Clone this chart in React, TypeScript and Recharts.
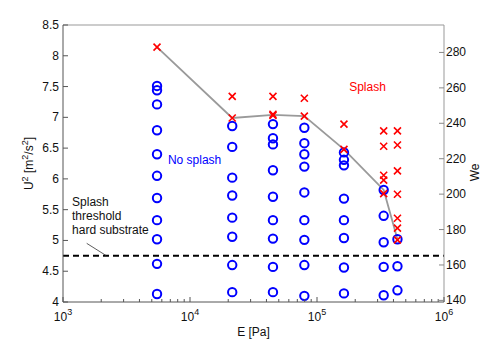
import {
  ComposedChart,
  Line,
  Scatter,
  XAxis,
  YAxis,
  ReferenceLine,
  ReferenceDot,
} from "recharts";

// E [Pa] of each measured column
const E_COLUMNS = [5500, 21500, 45000, 79500, 163000, 335000, 430000];

// U^2 values, one list per column
const NO_SPLASH_U = [
  [7.51, 7.44, 7.21, 6.79, 6.4, 6.05, 5.69, 5.33, 5.02, 4.62, 4.13],
  [6.86, 6.52, 6.02, 5.73, 5.37, 5.06, 4.6, 4.16],
  [6.89, 6.66, 6.56, 6.14, 5.71, 5.33, 5.03, 4.57, 4.16],
  [6.83, 6.58, 6.4, 6.2, 5.78, 5.33, 5.01, 4.6, 4.1],
  [6.43, 6.31, 6.22, 5.68, 5.33, 5.04, 4.56, 4.14],
  [5.82, 5.4, 4.97, 4.57, 4.11],
  [5.02, 4.58, 4.19],
];

const SPLASH_U = [
  [8.14],
  [7.34, 6.99],
  [7.34, 7.05, 7.03],
  [7.31, 7.02],
  [6.89, 6.48],
  [6.78, 6.53, 6.06, 5.98, 5.76],
  [6.78, 6.55, 6.13, 5.75, 5.36, 5.2, 5.01],
];

const THRESHOLD_U = [8.14, 6.99, 7.04, 7.02, 6.48, 5.82, 5.02];
const HARD_SUBSTRATE_U = 4.75;

const X_MAJOR = [1e3, 1e4, 1e5, 1e6];
const X_MINOR_MULT = [2, 3, 4, 5, 6, 7, 8, 9];
const U_TICKS = [4, 4.5, 5, 5.5, 6, 6.5, 7, 7.5, 8, 8.5];
const WE_TICKS = [140, 160, 180, 200, 220, 240, 260, 280];
const WE_DOMAIN = [139.1, 295.5];

const X_TICKS = [
  ...X_MAJOR.slice(0, 3).flatMap((d) => [d, ...X_MINOR_MULT.map((m) => m * d)]),
  X_MAJOR[3],
];

const noSplash = E_COLUMNS.flatMap((E, i) => NO_SPLASH_U[i].map((U) => ({ E, U })));
const splash = E_COLUMNS.flatMap((E, i) => SPLASH_U[i].map((U) => ({ E, U })));
const threshold = E_COLUMNS.map((E, i) => ({ E, U: THRESHOLD_U[i] }));

const FONT = "'Liberation Sans', Arial, sans-serif";
const AXIS = "#555";

// eslint-disable-next-line @typescript-eslint/no-explicit-any
function XTick({ x, y, payload }: any) {
  const exp = Math.log10(payload.value);
  const major = Math.abs(exp - Math.round(exp)) < 1e-6;
  return (
    <g>
      <line x1={x} x2={x} y1={y} y2={y - (major ? 5 : 3)} stroke={AXIS} />
      {major && (
        <text x={x} y={y + 19} textAnchor="middle" fontSize={12} fontFamily={FONT} fill="#111">
          10
          <tspan dy={-6} fontSize={9}>
            {Math.round(exp)}
          </tspan>
        </text>
      )}
    </g>
  );
}

// eslint-disable-next-line @typescript-eslint/no-explicit-any
function LeftTick({ x, y, payload }: any) {
  return (
    <g>
      <line x1={x} x2={x + 5} y1={y} y2={y} stroke={AXIS} />
      <text x={x - 4} y={y + 4} textAnchor="end" fontSize={12} fontFamily={FONT} fill="#111">
        {String(payload.value)}
      </text>
    </g>
  );
}

// eslint-disable-next-line @typescript-eslint/no-explicit-any
function RightTick({ x, y, payload }: any) {
  return (
    <g>
      <line x1={x} x2={x - 5} y1={y} y2={y} stroke="#888" />
      <text x={x + 2} y={y + 4} textAnchor="start" fontSize={12} fontFamily={FONT} fill="#111">
        {String(payload.value)}
      </text>
    </g>
  );
}

// eslint-disable-next-line @typescript-eslint/no-explicit-any
const OpenCircle = ({ cx, cy }: any) => (
  <circle cx={cx} cy={cy} r={4.2} fill="none" stroke="#0000ff" strokeWidth={2} />
);

// eslint-disable-next-line @typescript-eslint/no-explicit-any
const Cross = ({ cx, cy }: any) => {
  const s = 3.5;
  return (
    <path
      d={`M${cx - s},${cy - s}L${cx + s},${cy + s}M${cx - s},${cy + s}L${cx + s},${cy - s}`}
      stroke="#ff0000"
      strokeWidth={1.6}
      fill="none"
    />
  );
};

function textShape(lines: string[], color: string, anchor: "start" | "middle") {
  // eslint-disable-next-line @typescript-eslint/no-explicit-any
  return ({ cx, cy }: any) => (
    <text x={cx} y={cy + 4} textAnchor={anchor} fontSize={12} fontFamily={FONT} fill={color}>
      {lines.map((l, i) => (
        <tspan key={l} x={cx} dy={i === 0 ? 0 : 14.2}>
          {l}
        </tspan>
      ))}
    </text>
  );
}

// eslint-disable-next-line @typescript-eslint/no-explicit-any
const LeftLabel = ({ viewBox }: any) => {
  const cx = 33;
  const cy = viewBox.y + viewBox.height / 2;
  return (
    <text
      x={cx}
      y={cy}
      transform={`rotate(-90 ${cx} ${cy})`}
      textAnchor="middle"
      fontSize={12}
      fontFamily={FONT}
      fill="#111"
    >
      U<tspan dy={-5} fontSize={9}>2</tspan>
      <tspan dy={5}> [m</tspan>
      <tspan dy={-5} fontSize={9}>2</tspan>
      <tspan dy={5}>/s</tspan>
      <tspan dy={-5} fontSize={9}>2</tspan>
      <tspan dy={5}>]</tspan>
    </text>
  );
};

export default function App() {
  return (
    <div style={{ position: "absolute", left: 0, top: 0, background: "#fff" }}>
      <ComposedChart
        width={491}
        height={340}
        margin={{ top: 25, right: 0, left: 0, bottom: 0 }}
      >
        <XAxis
          dataKey="E"
          type="number"
          scale="log"
          domain={[1e3, 1e6]}
          allowDataOverflow
          ticks={X_TICKS}
          interval={0}
          tick={<XTick />}
          tickLine={false}
          tickSize={0}
          tickMargin={0}
          stroke={AXIS}
          height={38}
          label={{
            value: "E [Pa]",
            position: "insideBottom",
            offset: 4,
            fontSize: 12,
            fontFamily: FONT,
            fill: "#111",
          }}
        />
        <YAxis
          yAxisId="left"
          dataKey="U"
          type="number"
          domain={[4, 8.5]}
          allowDataOverflow
          ticks={U_TICKS}
          interval={0}
          tick={<LeftTick />}
          tickLine={false}
          tickSize={0}
          tickMargin={0}
          stroke={AXIS}
          width={63}
          label={<LeftLabel />}
        />
        <YAxis
          yAxisId="right"
          orientation="right"
          type="number"
          domain={WE_DOMAIN}
          allowDataOverflow
          ticks={WE_TICKS}
          interval={0}
          tick={<RightTick />}
          tickLine={false}
          tickSize={0}
          tickMargin={0}
          stroke="#999"
          width={47}
          label={{
            value: "We",
            angle: -90,
            position: "insideRight",
            offset: 16,
            fontSize: 12,
            fontFamily: FONT,
            fill: "#111",
          }}
        />
        <ReferenceLine yAxisId="left" y={8.5} stroke="#999" />
        <ReferenceLine
          yAxisId="left"
          y={HARD_SUBSTRATE_U}
          stroke="#000"
          strokeWidth={2}
          strokeDasharray="6 4"
        />
        <ReferenceLine
          yAxisId="left"
          segment={[
            { x: 1537, y: 4.953 },
            { x: 2183, y: 4.755 },
          ]}
          stroke="#333"
          strokeWidth={0.8}
        />
        <Line
          yAxisId="left"
          data={threshold}
          dataKey="U"
          type="linear"
          stroke="#9a9a9a"
          strokeWidth={1.8}
          dot={false}
          isAnimationActive={false}
        />
        <Scatter
          yAxisId="left"
          data={noSplash}
          dataKey="U"
          shape={<OpenCircle />}
          isAnimationActive={false}
        />
        <Scatter
          yAxisId="left"
          data={splash}
          dataKey="U"
          shape={<Cross />}
          isAnimationActive={false}
        />
        <ReferenceDot
          yAxisId="left"
          x={6700}
          y={6.305}
          r={0}
          shape={textShape(["No splash"], "#0000ff", "start")}
        />
        <ReferenceDot
          yAxisId="left"
          x={250000}
          y={7.495}
          r={0}
          shape={textShape(["Splash"], "#ff0000", "middle")}
        />
        <ReferenceDot
          yAxisId="left"
          x={1178}
          y={5.63}
          r={0}
          shape={textShape(["Splash", "threshold", "hard substrate"], "#111", "start")}
        />
      </ComposedChart>
    </div>
  );
}
